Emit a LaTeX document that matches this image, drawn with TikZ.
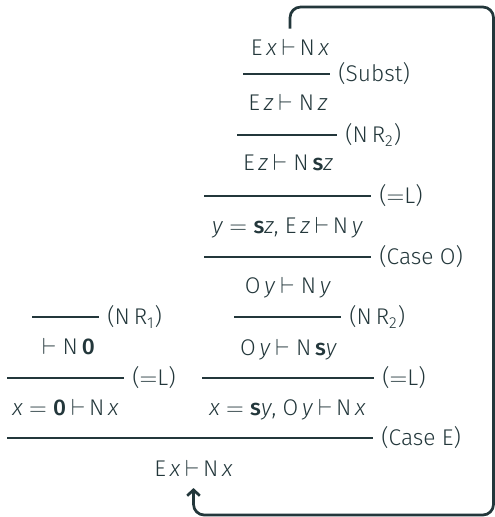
\documentclass[tikz,border=0pt]{standalone}
\usepackage{fontspec}
\setmainfont{Fira Sans Light}[ItalicFont={Fira Sans Light Italic}, BoldFont={Fira Sans Medium}]
\usetikzlibrary{arrows.meta}
\definecolor{mdark}{HTML}{23373B}
\newcommand{\turn}{\kern2.5pt$\vdash$}

\tikzset{
  seq/.style={anchor=base, inner sep=2pt, text=mdark},
  rulebar/.style={draw=mdark, line width=0.6pt},
  rulename/.style={anchor=west, inner sep=0pt, xshift=4pt, text=mdark},
  backloop/.style={draw=mdark, line width=1.4pt, rounded corners=5.5pt,
    -{Straight Barb[length=3pt, width=6.5pt]}}
}

\begin{document}
\begin{tikzpicture}[x=0.515pt, y=-0.515pt, font=\fontsize{11.7}{14}\selectfont]
  \useasboundingbox (0,0) rectangle (495,517);

  % right branch, top down
  \node[seq] (ex) at (290,55) {E\,\textit{x}\turn\,N\,\textit{x}};
  \draw[rulebar] (243,74) coordinate (subst-l) -- (330,74) coordinate (subst-r)
    node[rulename] {(Subst)};
  \node[seq] (ez) at (288,110) {E\,\textit{z}\turn\ N\,\textit{z}};
  \draw[rulebar] (237,135) coordinate (nrtwo-l) -- (337,135) coordinate (nrtwo-r)
    node[rulename] {(N\,R\textsubscript{2})};
  \node[seq] (esz) at (288,170) {E\,\textit{z}\turn\ N\,\textbf{s}\textit{z}};
  \draw[rulebar] (204,196) coordinate (eqla-l) -- (371,196) coordinate (eqla-r)
    node[rulename] {($=$L)};
  \node[seq] (yeq) at (287.5,233) {\textit{y} $=$ \textbf{s}\textit{z}, E\,\textit{z}\turn\,N\,\textit{y}};
  \draw[rulebar] (204,257) coordinate (caseo-l) -- (371,257) coordinate (caseo-r)
    node[rulename] {(Case O)};
  \node[seq] (oy) at (288,293) {O\,\textit{y}\turn\ N\,\textit{y}};
  \draw[rulebar] (234,317) coordinate (nrtwob-l) -- (341,317) coordinate (nrtwob-r)
    node[rulename] {(N\,R\textsubscript{2})};
  \node[seq] (osy) at (288.5,355) {O\,\textit{y}\turn\ N\,\textbf{s}\textit{y}};
  \draw[rulebar] (202,378) coordinate (eqlb-l) -- (374,378) coordinate (eqlb-r)
    node[rulename] {($=$L)};
  \node[seq] (xeqs) at (287.5,415) {\textit{x} $=$ \textbf{s}\textit{y}, O\,\textit{y}\turn\,N\,\textit{x}};

  % left branch
  \draw[rulebar] (32,317) coordinate (nrone-l) -- (99,317) coordinate (nrone-r)
    node[rulename] {(N\,R\textsubscript{1})};
  \node[seq] (nzero) at (68.5,354) {$\vdash$\ N\,\textbf{0}};
  \draw[rulebar] (7,378) coordinate (eqlz-l) -- (124,378) coordinate (eqlz-r)
    node[rulename] {($=$L)};
  \node[seq] (xeqz) at (65.5,415) {\textit{x} $=$ \textbf{0}\turn\,N\,\textit{x}};

  % root
  \draw[rulebar] (7,438) coordinate (casee-l) -- (373,438) coordinate (casee-r)
    node[rulename] {(Case E)};
  \node[seq] (root) at (193.5,476) {E\,\textit{x}\turn\,N\,\textit{x}};

  % back edge
  \coordinate (loopne) at (493.5,7);
  \coordinate (loopse) at (493.5,515);
  \draw[backloop] ([yshift=3pt]ex.north) |- (loopne) -- (loopse)
    -| ([yshift=-4pt]root.south);
\end{tikzpicture}
\end{document}
